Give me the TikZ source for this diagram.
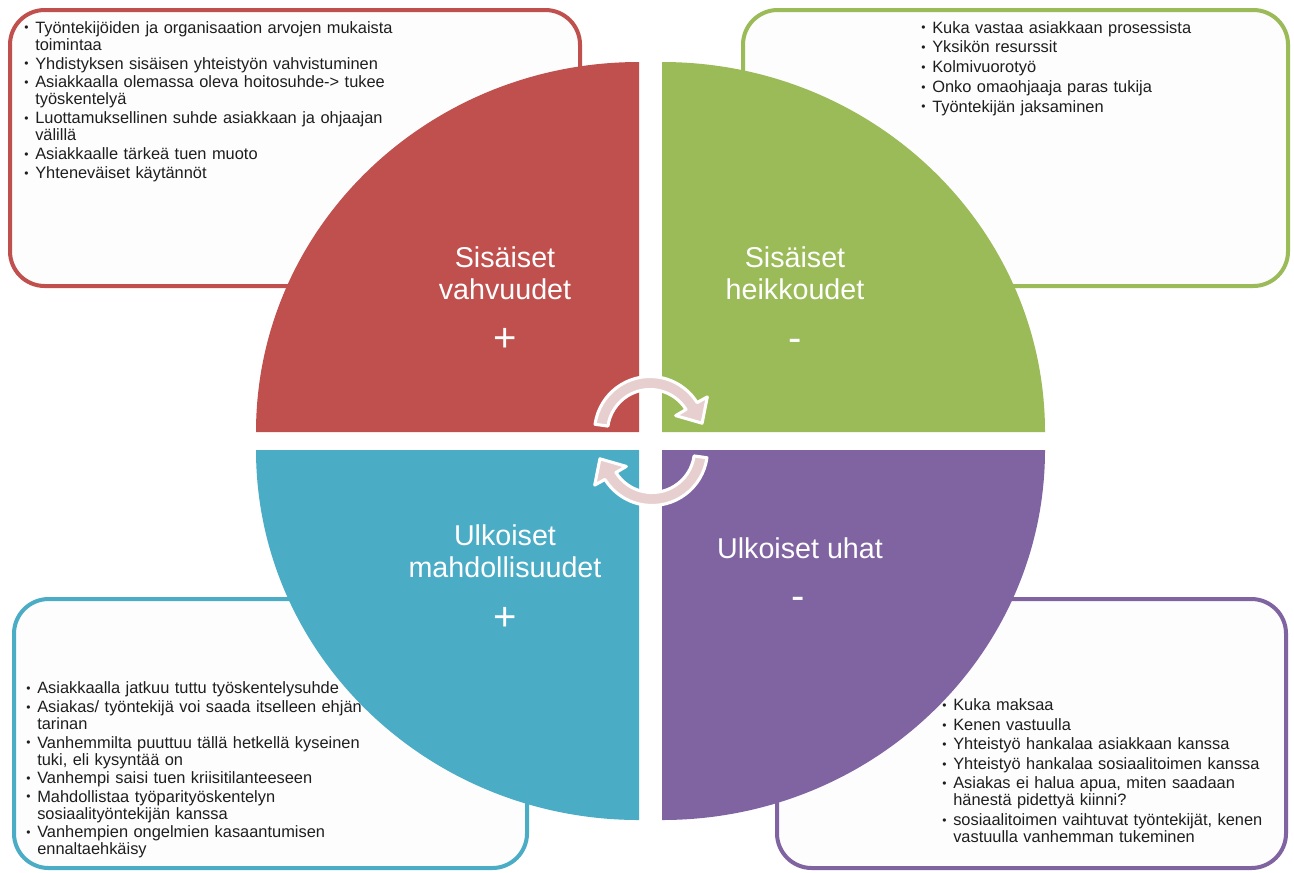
\documentclass[tikz,border=0pt]{standalone}
\usepackage{fontspec}
\setmainfont{Liberation Sans}
\definecolor{qred}{HTML}{C0504D}
\definecolor{qgreen}{HTML}{9BBB59}
\definecolor{qblue}{HTML}{4BACC6}
\definecolor{qpurple}{HTML}{8064A2}
\definecolor{arrowpink}{HTML}{E8CFCF}
\definecolor{txtcol}{HTML}{1E1E1E}
\definecolor{boxfill}{HTML}{FDFDFD}
\newcommand{\itm}[1]{\par\hangindent=8.25pt\hangafter=1\noindent\makebox[8.25pt][l]{\raisebox{1pt}{\fontsize{9pt}{9pt}\selectfont •}}#1}
\begin{document}
\begin{tikzpicture}[x=0.75pt,y=-0.75pt,
  infobox/.style={line width=3pt, fill=boxfill, rounded corners=26pt},
  txt/.style={anchor=north west, inner sep=0pt, align=left, text width=420pt, text=txtcol,
    font=\fontsize{12.3pt}{12.75pt}\selectfont,
    execute at begin node={\setlength{\parskip}{1.4pt}}},
  title/.style={text=white, align=center, inner sep=0pt, font=\fontsize{21.5pt}{24pt}\selectfont},
  sign/.style={text=white, inner sep=0pt, anchor=base, font=\fontsize{30pt}{30pt}\selectfont},
  arrowband/.style={fill=arrowpink, draw=white, line width=2.3pt, line join=round}]
\useasboundingbox (0,0) rectangle (1294,872);
\fill[white] (0,0) rectangle (1294,872);

% boxes
\draw[infobox, draw=qred] (10,10) rectangle (580,286);
\draw[infobox, draw=qgreen] (743,10) rectangle (1288,286);
\draw[infobox, draw=qblue] (14,599) rectangle (527,868);
\draw[infobox, draw=qpurple] (777,599) rectangle (1286,868);

% box texts
\node[txt] (rt) at (24,14) {%
\itm{Työntekijöiden ja organisaation arvojen mukaista\newline toimintaa}%
\itm{Yhdistyksen sisäisen yhteistyön vahvistuminen}%
\itm{Asiakkaalla olemassa oleva hoitosuhde-> tukee\newline työskentelyä}%
\itm{Luottamuksellinen suhde asiakkaan ja ohjaajan\newline välillä}%
\itm{Asiakkaalle tärkeä tuen muoto}%
\itm{Yhteneväiset käytännöt}\par};

\node[txt, execute at begin node={\setlength{\parskip}{2.1pt}}] (gt) at (921,13) {%
\itm{Kuka vastaa asiakkaan prosessista}%
\itm{Yksikön resurssit}%
\itm{Kolmivuorotyö}%
\itm{Onko omaohjaaja paras tukija}%
\itm{Työntekijän jaksaminen}\par};

\node[txt, execute at begin node={\setlength{\parskip}{1.2pt}}] (bt) at (26,675) {%
\itm{Asiakkaalla jatkuu tuttu työskentelysuhde}%
\itm{Asiakas/ työntekijä voi saada itselleen ehjän\newline tarinan}%
\itm{Vanhemmilta puuttuu tällä hetkellä kyseinen\newline tuki, eli kysyntää on}%
\itm{Vanhempi saisi tuen kriisitilanteeseen}%
\itm{Mahdollistaa työparityöskentelyn\newline sosiaalityöntekijän kanssa}%
\itm{Vanhempien ongelmien kasaantumisen\newline ennaltaehkäisy}\par};

\node[txt, execute at begin node={\setlength{\parskip}{1.9pt}}] (pt) at (942,691) {%
\itm{Kuka maksaa}%
\itm{Kenen vastuulla}%
\itm{Yhteistyö hankalaa asiakkaan kanssa}%
\itm{Yhteistyö hankalaa sosiaalitoimen kanssa}%
\itm{Asiakas ei halua apua, miten saadaan\newline hänestä pidettyä kiinni?}%
\itm{sosiaalitoimen vaihtuvat työntekijät, kenen\newline vastuulla vanhemman tukeminen}\par};

% quadrants
\fill[qred] (639,432) -- (256,432) arc[start angle=180, end angle=90, x radius=287.25pt, y radius=277.5pt] -- cycle;
\fill[qgreen] (662,432) -- (662,62) arc[start angle=90, end angle=0, x radius=287.25pt, y radius=277.5pt] -- cycle;
\fill[qblue] (639,450) -- (256,450) arc[start angle=180, end angle=270, x radius=287.25pt, y radius=277.5pt] -- cycle;
\fill[qpurple] (662,450) -- (1045,450) arc[start angle=0, end angle=-90, x radius=287.25pt, y radius=277.5pt] -- cycle;

% titles
\node[title] (t1) at (505,273) {Sisäiset\\vahvuudet};
\node[sign] (s1) at (505,351) {+};
\node[title] (t2) at (795,273) {Sisäiset\\heikkoudet};
\node[sign] (s2) at (795,351) {-};
\node[title] (t3) at (505,551) {Ulkoiset\\mahdollisuudet};
\node[sign] (s3) at (505,630) {+};
\node[title] (t4) at (800,548) {Ulkoiset uhat};
\node[sign] (s4) at (798,609) {-};

% circular arrows
\path[arrowband] ([shift={(650,432)}]172:41.625pt) arc[start angle=172, end angle=32, radius=41.625pt]
  -- (707.3,396.9) -- (702.1,423.2) -- (675.7,415.6)
  -- ([shift={(650,432)}]32:31.875pt) arc[start angle=32, end angle=172, radius=31.875pt] -- cycle;
\begin{scope}[rotate around={180:(651,441)}]
\path[arrowband] ([shift={(650,432)}]172:41.625pt) arc[start angle=172, end angle=32, radius=41.625pt]
  -- (707.3,396.9) -- (702.1,423.2) -- (675.7,415.6)
  -- ([shift={(650,432)}]32:31.875pt) arc[start angle=32, end angle=172, radius=31.875pt] -- cycle;
\end{scope}
\end{tikzpicture}
\end{document}
